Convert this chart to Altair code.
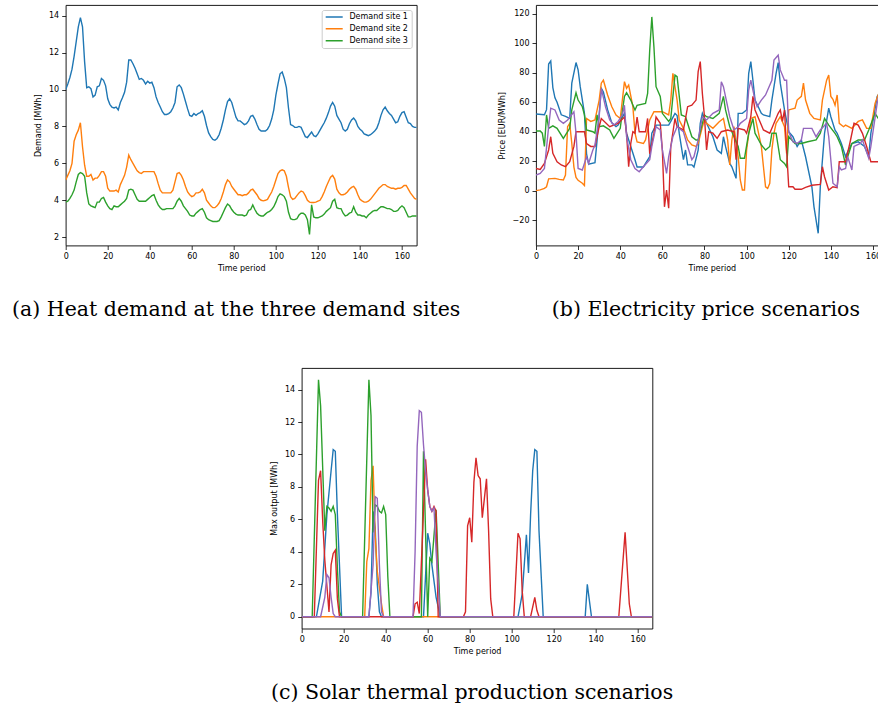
import altair as alt
import pandas as pd

# ---------------- (a) Heat demand at the three demand sites (hourly, t = 0..167) ----------------
demand_names = ["Demand site 1", "Demand site 2", "Demand site 3"]
demand_site_1 = [
    10.0, 10.3, 10.65, 11.1, 11.8, 12.6, 13.4, 13.9, 13.4, 11.5,
    10.1, 10.15, 10.05, 9.6, 9.7, 10.15, 10.2, 10.6, 10.5, 10.2,
    9.5, 9.2, 9.05, 9.0, 9.05, 8.9, 9.3, 9.55, 9.85, 10.4,
    11.6, 11.6, 11.4, 11.15, 10.85, 10.55, 10.6, 10.5, 10.3, 10.45,
    10.35, 10.4, 10.1, 9.6, 9.3, 9.05, 8.8, 8.65, 8.65, 8.7,
    8.8, 9.0, 9.3, 10.15, 10.25, 10.1, 9.75, 9.35, 8.95, 8.6,
    8.55, 8.7, 8.6, 8.7, 8.75, 8.85, 8.55, 8.05, 7.65, 7.45,
    7.3, 7.25, 7.35, 7.55, 7.9, 8.35, 8.9, 9.35, 9.5, 9.3,
    8.9, 8.5, 8.3, 8.3, 8.2, 8.1, 8.15, 8.3, 8.55, 8.6,
    8.4, 8.1, 7.85, 7.75, 7.75, 7.75, 7.85, 8.05, 8.4, 8.9,
    9.7, 10.3, 10.85, 10.95, 10.6, 10.1, 9.0, 8.1, 8.05, 7.95,
    7.95, 8.0, 7.95, 7.7, 7.45, 7.4, 7.55, 7.7, 7.5, 7.45,
    7.6, 7.8, 8.0, 8.2, 8.45, 8.75, 9.1, 9.3, 9.1, 8.6,
    8.4, 8.2, 7.85, 7.75, 7.85, 8.15, 8.35, 8.45, 8.3, 8.0,
    7.85, 7.75, 7.6, 7.55, 7.5, 7.55, 7.65, 7.75, 7.9, 8.2,
    8.6, 8.9, 9.05, 8.85, 8.7, 8.6, 8.4, 8.2, 8.25, 8.55,
    8.75, 8.8, 8.5, 8.2, 8.15, 8.0, 7.95, 7.95,
]
demand_site_2 = [
    5.1, 5.35, 5.6, 6.0, 7.2, 7.55, 7.8, 8.2, 6.9, 5.9,
    5.3, 5.3, 5.4, 5.1, 5.2, 5.2, 5.35, 5.55, 5.55, 5.3,
    4.65, 4.5, 4.5, 4.5, 4.55, 4.45, 4.85, 5.1, 5.35, 5.8,
    6.45, 6.2, 6.0, 5.8, 5.6, 5.5, 5.45, 5.55, 5.55, 5.55,
    5.55, 5.55, 5.55, 5.3, 4.9, 4.55, 4.4, 4.4, 4.4, 4.4,
    4.4, 4.55, 5.0, 5.45, 5.5, 5.35, 5.1, 4.75, 4.45, 4.3,
    4.2, 4.25, 4.4, 4.4, 4.45, 4.6, 4.4, 4.0, 3.85, 3.7,
    3.6, 3.6, 3.7, 3.85, 4.1, 4.45, 4.85, 5.1, 5.0, 4.75,
    4.6, 4.45, 4.3, 4.3, 4.25, 4.3, 4.3, 4.4, 4.55, 4.6,
    4.45, 4.3, 4.1, 4.0, 3.97, 4.0, 4.05, 4.25, 4.45, 4.75,
    5.1, 5.45, 5.6, 5.65, 5.6, 5.3, 4.7, 4.2, 4.05, 4.1,
    4.25, 4.4, 4.5, 4.45, 4.25, 4.0, 3.9, 3.88, 3.88, 3.9,
    3.95, 4.0, 4.2, 4.45, 4.75, 5.0, 5.25, 5.35, 5.15, 4.6,
    4.4, 4.3, 4.3, 4.35, 4.45, 4.6, 4.7, 4.75, 4.6, 4.3,
    4.05, 3.97, 3.9, 3.9, 3.95, 4.05, 4.2, 4.35, 4.5, 4.65,
    4.75, 4.85, 4.85, 4.75, 4.7, 4.65, 4.65, 4.6, 4.65, 4.65,
    4.7, 4.8, 4.8, 4.6, 4.4, 4.25, 4.1, 4.05,
]
demand_site_3 = [
    3.9, 3.95, 4.1, 4.3, 4.55, 5.0, 5.4, 5.5, 5.45, 5.3,
    4.4, 3.8, 3.7, 3.65, 3.6, 3.9, 3.9, 4.1, 4.15, 3.9,
    3.7, 3.55, 3.5, 3.7, 3.65, 3.65, 3.75, 3.85, 3.95, 4.1,
    4.55, 4.6, 4.55, 4.3, 4.05, 3.95, 3.95, 3.95, 3.95, 4.05,
    4.15, 4.25, 4.3, 4.0, 3.75, 3.6, 3.5, 3.5, 3.55, 3.55,
    3.55, 3.55, 3.7, 3.95, 4.1, 3.95, 3.7, 3.55, 3.4, 3.2,
    3.15, 3.15, 3.3, 3.4, 3.5, 3.55, 3.35, 3.05, 2.95, 2.9,
    2.85, 2.85, 2.85, 2.9, 3.1, 3.35, 3.6, 3.8, 3.7, 3.5,
    3.35, 3.25, 3.2, 3.2, 3.2, 3.15, 3.2, 3.45, 3.5, 3.75,
    3.5, 3.3, 3.2, 3.15, 3.15, 3.25, 3.35, 3.4, 3.5, 3.65,
    3.9, 4.2, 4.35, 4.3, 4.2, 3.95, 3.35, 3.0, 2.95, 2.95,
    3.0, 3.2, 3.3, 3.3, 3.2, 2.95, 2.15, 3.75, 3.1, 3.05,
    3.05, 3.1, 3.15, 3.25, 3.4, 3.5, 3.6, 3.95, 4.05, 3.6,
    3.55, 3.55, 3.3, 3.15, 3.2, 3.3, 3.35, 3.65, 3.35, 3.2,
    3.2, 3.15, 3.15, 3.05, 3.2, 3.3, 3.4, 3.45, 3.45, 3.55,
    3.65, 3.65, 3.6, 3.55, 3.55, 3.5, 3.4, 3.4, 3.45, 3.6,
    3.7, 3.6, 3.35, 3.1, 3.1, 3.15, 3.15, 3.15,
]

# ---------------- (b) Electricity price scenarios: (time period, EUR/MWh) vertices ----------------
price_s1 = [(0, 52), (4, 51.5), (5, 55), (6, 86), (7, 88), (8, 70), (9, 63), (10, 60), (12, 51.5), (14, 50.5),
            (16, 49), (17, 73), (19, 87), (20, 82), (21, 70.6), (23, 52.5), (24, 25), (25, 18), (28, 19),
            (29, 34), (31, 69.5), (32, 67), (34, 55), (36, 46), (38, 43.5), (39, 44.5), (42, 52.5), (43, 39),
            (45, 30), (47, 21), (48, 16), (51, 16), (52, 18.5), (54, 23), (55, 39), (57, 44.5), (60, 44.5),
            (63, 44.5), (64, 47), (66, 52.5), (67, 51), (68, 39), (70, 21), (71, 27.6), (72, 17.5), (74, 17.5),
            (75, 16), (77, 27.5), (78, 45.7), (79, 52.5), (81, 45.7), (84, 36.6), (86, 27.6), (88, 25.3),
            (89, 36.6), (90, 30), (92, 18.5), (93, 16.2), (95, 8.3), (96, 52.5), (98, 52.5), (100, 54.8),
            (101, 79.7), (102, 87.6), (103, 75), (104, 61.5), (107, 52.5), (108, 51.4), (111, 50.2),
            (112, 61.5), (114, 79.7), (115, 87), (116, 73), (118, 54.8), (120, 40), (122, 36.6), (124, 30),
            (126, 34.4), (128, 23), (131, 2.6), (132, -11), (134, -29), (135, 2.6), (137, 38.9), (139, 56),
            (140, 50.2), (142, 41), (143, 38.9), (145, 32), (147, 23), (148, 26.4), (150, 32), (153, 33.2),
            (156, 30), (158, 23), (159, 38.9), (162, 64), (164, 68), (167, 66)]
price_s2 = [(0, 0), (2, 0.5), (4, 1.5), (5, 2.6), (6, 8), (9, 8.3), (11, 7.6), (13, 7.2), (14, 10.6), (15, 43.4),
            (16, 45.7), (17, 32), (18, 16), (19, 9), (20, 7), (22, 5), (23, 3.5), (24, 49), (26, 47), (28, 48),
            (30, 61.5), (31, 73), (32, 75), (34, 65), (36, 57), (38, 51.4), (40, 49), (41, 61.5), (42, 74),
            (43, 69.5), (44, 71.7), (46, 57), (47, 39), (48, 33), (51, 32), (52, 34.4), (54, 48), (56, 53.6),
            (60, 53.6), (63, 51.4), (64, 61.5), (65, 79.7), (67, 61.5), (68, 48), (70, 42.3), (72, 34.4),
            (74, 31), (76, 30), (77, 32), (79, 43.4), (80, 48), (81, 45.7), (84, 42.3), (87, 46.8), (89, 49),
            (91, 34.4), (92, 17.4), (93, 34.4), (94, 43.4), (96, 23), (97, 7.2), (98, 0.4), (99, 0.4),
            (100, 27.6), (102, 49), (104, 50.2), (105, 43.4), (107, 30), (108, 16.2), (109, 2.6), (110, 1.5),
            (111, 5), (112, 27.6), (113, 39), (114, 45.7), (116, 50.2), (118, 43.4), (119, 25.3), (120, 54.8),
            (123, 56), (124, 61.5), (126, 64), (127, 73), (128, 61.5), (130, 52.5), (132, 49), (135, 48),
            (136, 61.5), (138, 75), (139, 78.5), (140, 64), (141, 62), (142, 58), (143, 65), (144, 45.7),
            (146, 43.4), (147, 44.5), (150, 42.3), (153, 47), (155, 48), (157, 42.3), (159, 42.3), (161, 59.3),
            (163, 67), (167, 72)]
price_s3 = [(0, 40.5), (2, 40.5), (3, 39), (4, 30), (5, 51.4), (6, 42.3), (8, 44), (10, 42.3), (13, 35.5),
            (16, 42.3), (17, 54.8), (19, 66.5), (20, 61.5), (22, 57), (23, 51.4), (24, 41.2), (27, 40), (28, 39),
            (29, 51.4), (30, 43.4), (32, 44), (35, 41.2), (37, 35.5), (40, 42.3), (41, 53.6), (42, 64),
            (43, 66.5), (45, 61.5), (47, 54.8), (48, 58), (52, 59.3), (53, 66), (54, 95.5), (55, 118),
            (56, 97.6), (57, 70.6), (59, 64), (60, 52.5), (63, 47), (64, 49), (66, 78.5), (67, 77.4), (69, 51.4),
            (71, 50.2), (74, 36.6), (76, 34.4), (77, 34.4), (79, 45.7), (80, 51.4), (81, 50.2), (84, 49),
            (87, 52.5), (89, 64), (90, 54.8), (92, 43.4), (94, 36.6), (96, 30), (97, 22), (99, 22), (101, 39),
            (103, 49), (104, 39), (107, 31), (109, 27.6), (111, 30), (112, 39), (114, 39), (116, 21),
            (118, 18.5), (119, 16.2), (120, 36.6), (123, 32), (126, 32), (129, 33.2), (133, 34.4), (135, 39),
            (137, 49), (139, 44.5), (142, 38.9), (143, 36.6), (145, 30), (147, 17.4), (148, 23), (150, 32),
            (153, 34.4), (156, 34.4), (158, 41.2), (161, 52.5), (163, 48), (167, 45)]
price_s4 = [(0, 15), (2, 14.4), (4, 18.5), (6, 27.6), (7, 36.6), (8, 25.3), (10, 19.6), (12, 17.4), (14, 16.2),
            (16, 19.6), (18, 30), (19, 40), (23, 40), (24, 32), (26, 30), (28, 30), (30, 43.4), (31, 49),
            (35, 43.4), (39, 45.7), (42, 50), (43, 39), (44, 16.2), (45, 32), (46, 40), (47, 39), (48, 50),
            (49, 40), (52, 40), (53, 49), (54, 25), (56, 39), (57, 50), (59, 45.7), (60, 27.6), (61, -11),
            (62, 0.4), (63, -12), (64, 30), (66, 49), (67, 43.4), (70, 41.2), (72, 57), (74, 58), (76, 61.5),
            (77, 80.8), (78, 87.6), (79, 66), (80, 50), (81, 27.6), (82, 40), (84, 39), (86, 35.5), (88, 40),
            (91, 41.2), (94, 40), (95, 21), (96, 42.3), (99, 41.2), (100, 38.9), (102, 50.2), (103, 64),
            (104, 54.8), (106, 48), (108, 41.2), (111, 39), (113, 45.7), (115, 52.5), (116, 54.8), (117, 47),
            (118, 54.8), (119, 27.6), (120, 2.6), (122, 2.6), (123, 0.9), (126, 0.9), (128, 2.2), (131, 3.6),
            (135, 4.2), (136, 16.2), (137, 9.4), (139, 0.4), (141, 2.6), (143, 2), (144, 19.6), (147, 19.6),
            (149, 32), (151, 45.7), (153, 44.5), (155, 38.9), (157, 30), (159, 19.6), (163, 19.6), (167, 19)]
price_s5 = [(0, 10.6), (2, 11.7), (4, 15), (6, 43.4), (7, 56), (9, 54.8), (11, 48), (13, 45.7), (15, 48),
            (18, 53.6), (19, 39), (20, 15), (22, 14), (24, 23), (25, 18.5), (27, 27.6), (28, 31), (30, 50.2),
            (31, 69.5), (33, 57), (35, 48), (37, 44.5), (39, 47), (41, 51.4), (42, 58), (43, 36.6), (45, 21),
            (47, 15), (49, 12.8), (51, 16.2), (54, 21), (55, 30), (57, 43.4), (59, 41.2), (60, 27.6), (62, 11.7),
            (63, 23), (65, 36.6), (67, 43.4), (70, 40), (72, 30), (74, 21), (75, 23), (77, 34.4), (79, 50.2),
            (80, 49), (81, 48), (84, 52.5), (87, 54.8), (88, 74), (89, 70.6), (91, 57), (92, 50.2), (94, 41.2),
            (96, 43.4), (97, 45.7), (100, 49), (101, 68.3), (102, 75), (104, 61.5), (105, 57), (107, 61.5),
            (109, 65), (112, 75), (113, 88.7), (115, 92), (116, 82), (118, 75), (119, 75), (120, 40),
            (122, 33.2), (124, 32), (126, 34.4), (127, 42.3), (131, 42.3), (133, 36.6), (135, 41.2),
            (138, 45.7), (139, 36.6), (141, 5), (143, 2.6), (144, 16.2), (145, 14), (147, 15), (148, 23),
            (150, 14), (151, 30), (154, 32), (155, 34.4), (158, 22), (159, 30), (162, 59.3), (163, 66), (167, 72)]

# ---------------- (c) Solar thermal production scenarios: (time period, MWh) vertices ----------------
solar_s1 = [(0, 0), (7, 0), (10, 2.2), (12, 6.3), (14, 9.0), (15, 10.3), (16, 10.2), (17, 6.3), (19, 0),
            (32, 0), (33, 1.5), (34, 6.5), (35, 5.5), (36, 2), (37, 0.3), (38, 0), (58, 0), (60, 5.15),
            (61, 4.5), (62, 3.2), (63, 2.2), (64, 1.2), (66, 0), (103, 0), (105, 1.4), (107, 5.05), (108, 2.7),
            (109, 6.3), (110, 9), (111, 10.3), (112, 10.2), (113, 5.3), (115, 0), (135, 0), (136, 2), (138, 0),
            (167, 0)]
solar_s2 = [(0, 0), (30, 0), (31, 3.4), (32, 4.2), (33, 8.4), (34, 9.3), (35, 5), (36, 2.8), (37, 1.8),
            (38, 0.8), (39, 0), (167, 0)]
solar_s3 = [(0, 0), (5, 0), (8, 14.6), (9, 13), (11, 5.3), (12, 6.8), (13, 6.7), (14, 6.5), (15, 6.8),
            (16, 6.3), (17, 3), (18, 0.3), (19, 0), (29, 0), (32, 14.6), (33, 12.4), (34, 5.2), (35, 6.9),
            (36, 6.8), (37, 6.5), (38, 6.4), (39, 6.8), (40, 6.3), (41, 2.5), (42, 0), (57, 0), (58, 10.2),
            (60, 0), (61, 3.6), (62, 3.4), (64, 6.6), (66, 0), (167, 0)]
solar_s4 = [(0, 0), (6, 0), (8, 8.4), (9, 9.0), (10, 5.9), (11, 3.5), (13, 0.3), (14, 3.2), (15, 3.9),
            (16, 4.1), (17, 1.1), (18, 0), (53, 0), (54, 0.8), (55, 0.9), (56, 0.2), (59, 9.7), (60, 7.8),
            (61, 6.8), (62, 6.5), (63, 6.8), (64, 6.5), (65, 0), (77, 0), (78, 0.3), (79, 5.6), (80, 6.1),
            (81, 4.6), (82, 8.3), (83, 9.8), (84, 8.7), (85, 8.5), (86, 6.1), (88, 8.5), (89, 5.3), (90, 1.1),
            (91, 0), (101, 0), (103, 5.15), (104, 4.8), (105, 1.6), (106, 0), (109, 0), (111, 1.2), (112, 0.4),
            (113, 0), (151, 0), (154, 5.2), (156, 0.8), (157, 0), (167, 0)]
solar_s5 = [(0, 0), (9, 0), (11, 1.2), (12, 2.6), (13, 2.4), (14, 1.2), (15, 0.2), (16, 0), (32, 0),
            (34, 3.2), (35, 7.4), (36, 7.3), (37, 3.2), (38, 0.3), (39, 0), (53, 0), (54, 4), (55, 10.5),
            (56, 12.7), (57, 12.6), (58, 10.6), (59, 9), (60, 7.8), (61, 6.8), (62, 6.5), (63, 6.7), (64, 4),
            (66, 0), (167, 0)]

price_names = ["Price 1", "Price 2", "Price 3", "Price 4", "Price 5"]
solar_names = ["Solar 1", "Solar 2", "Solar 3", "Solar 4", "Solar 5"]
tab10 = ["#1f77b4", "#ff7f0e", "#2ca02c", "#d62728", "#9467bd"]

# ---------------- data frames ----------------
rows_a = []
for name, vals in zip(demand_names, [demand_site_1, demand_site_2, demand_site_3]):
    for t, v in enumerate(vals):
        rows_a.append({"t": t, "v": v, "s": name})
df_a = pd.DataFrame(rows_a)


def pairs_frame(names, series_list):
    rows = []
    for name, pts in zip(names, series_list):
        for t, v in pts:
            rows.append({"t": t, "v": v, "s": name})
    return pd.DataFrame(rows)


df_b = pairs_frame(price_names, [price_s1, price_s2, price_s3, price_s4, price_s5])
df_c = pairs_frame(solar_names, [solar_s1, solar_s2, solar_s3, solar_s4, solar_s5])

FONT = "DejaVu Sans"


def make_axis(values, title, title_pad):
    return alt.Axis(values=values, title=title, grid=False, domain=False, tickSize=4, tickWidth=0.8,
                    tickColor="black", labelFont=FONT, labelFontSize=8, labelColor="black",
                    labelPadding=3, labelFlush=False, labelOverlap=False, titleFont=FONT,
                    titleFontSize=8, titleFontWeight="normal", titleColor="black",
                    titlePadding=title_pad)


def caption(text, dx):
    return alt.TitleParams(text=text, orient="bottom", anchor="middle", frame="group", font="DejaVu Serif",
                           fontSize=20.5, fontWeight="normal", color="black", offset=27, dx=dx)


x_ticks = [0, 20, 40, 60, 80, 100, 120, 140, 160]

panel_a = alt.Chart(df_a).mark_line(strokeWidth=1.4, clip=True).encode(
    x=alt.X("t:Q", scale=alt.Scale(domain=[0, 167], nice=False, zero=False),
            axis=make_axis(x_ticks, "Time period", 4)),
    y=alt.Y("v:Q", scale=alt.Scale(domain=[1.55, 14.58], nice=False, zero=False),
            axis=make_axis([2, 4, 6, 8, 10, 12, 14], "Demand [MWh]", 6)),
    color=alt.Color("s:N", scale=alt.Scale(domain=demand_names, range=tab10[:3]),
                    legend=alt.Legend(title=None, orient="top-right", offset=5, padding=3,
                                      fillColor="rgba(255,255,255,0.8)", strokeColor="#cccccc",
                                      cornerRadius=2, symbolType="stroke", symbolSize=289,
                                      symbolStrokeWidth=1.5, clipHeight=8, labelFont=FONT,
                                      labelFontSize=8, labelColor="black", labelOffset=5.7,
                                      rowPadding=3.85)),
).properties(width=351, height=240.5, title=caption("(a) Heat demand at the three demand sites", -5))

panel_b = alt.Chart(df_b).mark_line(strokeWidth=1.4, clip=True).encode(
    x=alt.X("t:Q", scale=alt.Scale(domain=[0, 167], nice=False, zero=False),
            axis=make_axis(x_ticks, "Time period", 4)),
    y=alt.Y("v:Q", scale=alt.Scale(domain=[-37.3, 126.1], nice=False, zero=False),
            axis=make_axis([-20, 0, 20, 40, 60, 80, 100, 120], "Price [EUR/MWh]", 6)),
    color=alt.Color("s:N", scale=alt.Scale(domain=price_names, range=tab10), legend=None),
).properties(width=351.7, height=240.5, title=caption("(b) Electricity price scenarios", -6))

panel_c = alt.Chart(df_c).mark_line(strokeWidth=1.4, clip=True).encode(
    x=alt.X("t:Q", scale=alt.Scale(domain=[0, 167], nice=False, zero=False),
            axis=make_axis(x_ticks, "Time period", 4)),
    y=alt.Y("v:Q", scale=alt.Scale(domain=[-0.73, 15.33], nice=False, zero=False),
            axis=make_axis([0, 2, 4, 6, 8, 10, 12, 14], "Max output [MWh]", 6)),
    color=alt.Color("s:N", scale=alt.Scale(domain=solar_names, range=tab10), legend=None),
).properties(width=350.7, height=260.6, title=caption("(c) Solar thermal production scenarios", -5))

spacer = alt.Chart(pd.DataFrame({"t": [0]})).mark_point(opacity=0).encode(
    x=alt.X("t:Q", axis=None), y=alt.Y("t:Q", axis=None)
).properties(width=235.3, height=10, view=alt.ViewBackground(strokeOpacity=0))

top_row = alt.hconcat(panel_a, panel_b, spacing=119.3, bounds="flush").resolve_scale(
    color="independent").resolve_legend(color="independent")
bottom_row = alt.hconcat(spacer, panel_c, spacing=0, bounds="flush").resolve_scale(
    color="independent").resolve_legend(color="independent")

chart = alt.vconcat(top_row, bottom_row, spacing=363, bounds="flush").resolve_scale(
    color="independent").resolve_legend(color="independent").properties(
    autosize=alt.AutoSizeParams(type="none"),
    padding={"left": 65.7, "top": 5, "right": 812.3, "bottom": 705},
    background="white",
).configure_view(stroke="black", strokeWidth=0.9)

chart.save("out.html", embed_options={"renderer": "svg", "actions": False})
